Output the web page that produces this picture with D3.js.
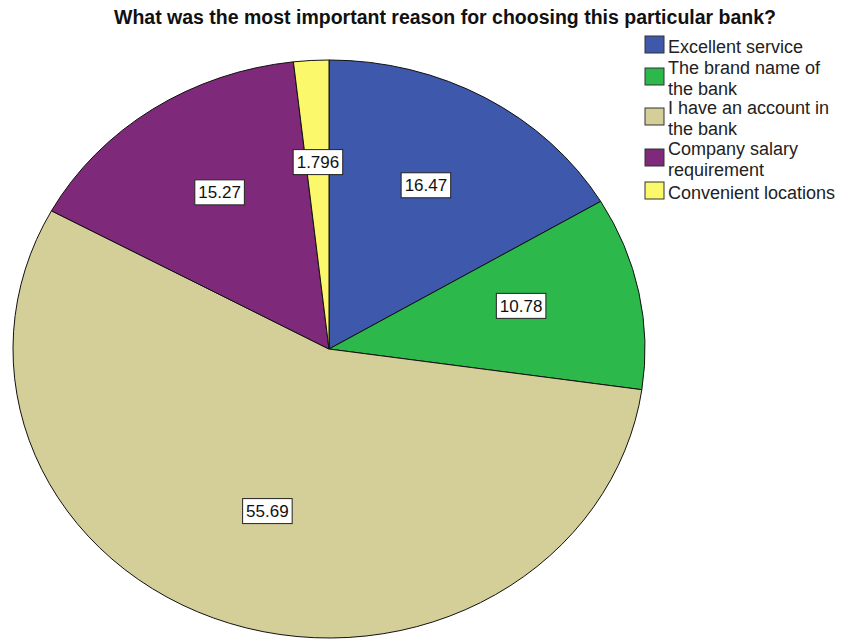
<!DOCTYPE html>
<html>
<head>
<meta charset="utf-8">
<script src="https://cdn.jsdelivr.net/npm/d3@7"></script>
<style>
  body { margin: 0; background: #fff; }
  text { font-family: Arial, "Liberation Sans", sans-serif; }
</style>
</head>
<body>
<script>
// data
var categories = ["Excellent service", "The brand name of the bank", "I have an account in the bank", "Company salary requirement", "Convenient locations"];
var legendLines = [["Excellent service"], ["The brand name of", "the bank"], ["I have an account in", "the bank"], ["Company salary", "requirement"], ["Convenient locations"]];
var percents = [16.47, 10.78, 55.69, 15.27, 1.796];
var labels = ["16.47", "10.78", "55.69", "15.27", "1.796"];
var colors = ["#3e58ac", "#2db84c", "#d4ce98", "#7e2979", "#fbf86b"];
var title = "What was the most important reason for choosing this particular bank?";

var width = 849, height = 639;
var cx = 329, cy = 349, rx = 316, ry = 289;

var svg = d3.select("body").append("svg")
    .attr("width", width)
    .attr("height", height);

// title
svg.append("text")
    .attr("x", 445)
    .attr("y", 24)
    .attr("text-anchor", "middle")
    .style("font-size", "19.5px")
    .style("font-weight", "bold")
    .style("fill", "#111")
    .text(title);

var data = categories.map(function(c, i) { return { name: c, value: percents[i], label: labels[i], color: colors[i] }; });

var pie = d3.pie().sort(null).value(function(d) { return d.value; });
var arc = d3.arc().innerRadius(0).outerRadius(rx);
var labelArc = d3.arc().innerRadius(rx * 0.62).outerRadius(rx * 0.62);

// pie is drawn as a circle then squashed into an ellipse
var g = svg.append("g")
    .attr("transform", "translate(" + cx + "," + cy + ") scale(1," + (ry / rx) + ")");

g.selectAll("path")
    .data(pie(data))
    .enter()
    .append("path")
    .attr("d", arc)
    .attr("fill", function(d) { return d.data.color; })
    .attr("stroke", "#111")
    .attr("stroke-width", 1)
    .attr("vector-effect", "non-scaling-stroke");

// value labels in white boxes
var lab = svg.selectAll("g.lab")
    .data(pie(data))
    .enter()
    .append("g")
    .attr("class", "lab")
    .attr("transform", function(d) {
      var c = labelArc.centroid(d);
      return "translate(" + (cx + c[0]) + "," + (cy + c[1] * ry / rx - 8) + ")";
    });

lab.append("text")
    .attr("text-anchor", "middle")
    .attr("dy", "0.36em")
    .style("font-size", "17px")
    .style("fill", "#111")
    .text(function(d) { return d.data.label; });

lab.each(function() {
  var t = d3.select(this).select("text");
  var bb = t.node().getBBox();
  d3.select(this).insert("rect", "text")
      .attr("x", -(bb.width + 7) / 2)
      .attr("y", -12.5)
      .attr("width", bb.width + 7)
      .attr("height", 25)
      .attr("fill", "#fff")
      .attr("stroke", "#222")
      .attr("stroke-width", 1);
});

// legend
var legendY = [36, 68, 108, 149, 182];
var legend = svg.selectAll("g.leg")
    .data(data)
    .enter()
    .append("g")
    .attr("class", "leg")
    .attr("transform", function(d, i) { return "translate(645," + legendY[i] + ")"; });

legend.append("rect")
    .attr("width", 19)
    .attr("height", 17)
    .attr("fill", function(d) { return d.color; })
    .attr("stroke", "#333")
    .attr("stroke-width", 1);

// each wrapped line is its own text element
legend.each(function(d, i) {
  var lines = legendLines[i];
  var sel = d3.select(this);
  lines.forEach(function(l, j) {
    sel.append("text")
      .attr("x", 23)
      .attr("y", (lines.length > 1 ? 6 : 17) + j * 20.5)
      .style("font-size", "18px")
      .style("fill", "#222")
      .text(l);
  });
});
</script>
</body>
</html>
